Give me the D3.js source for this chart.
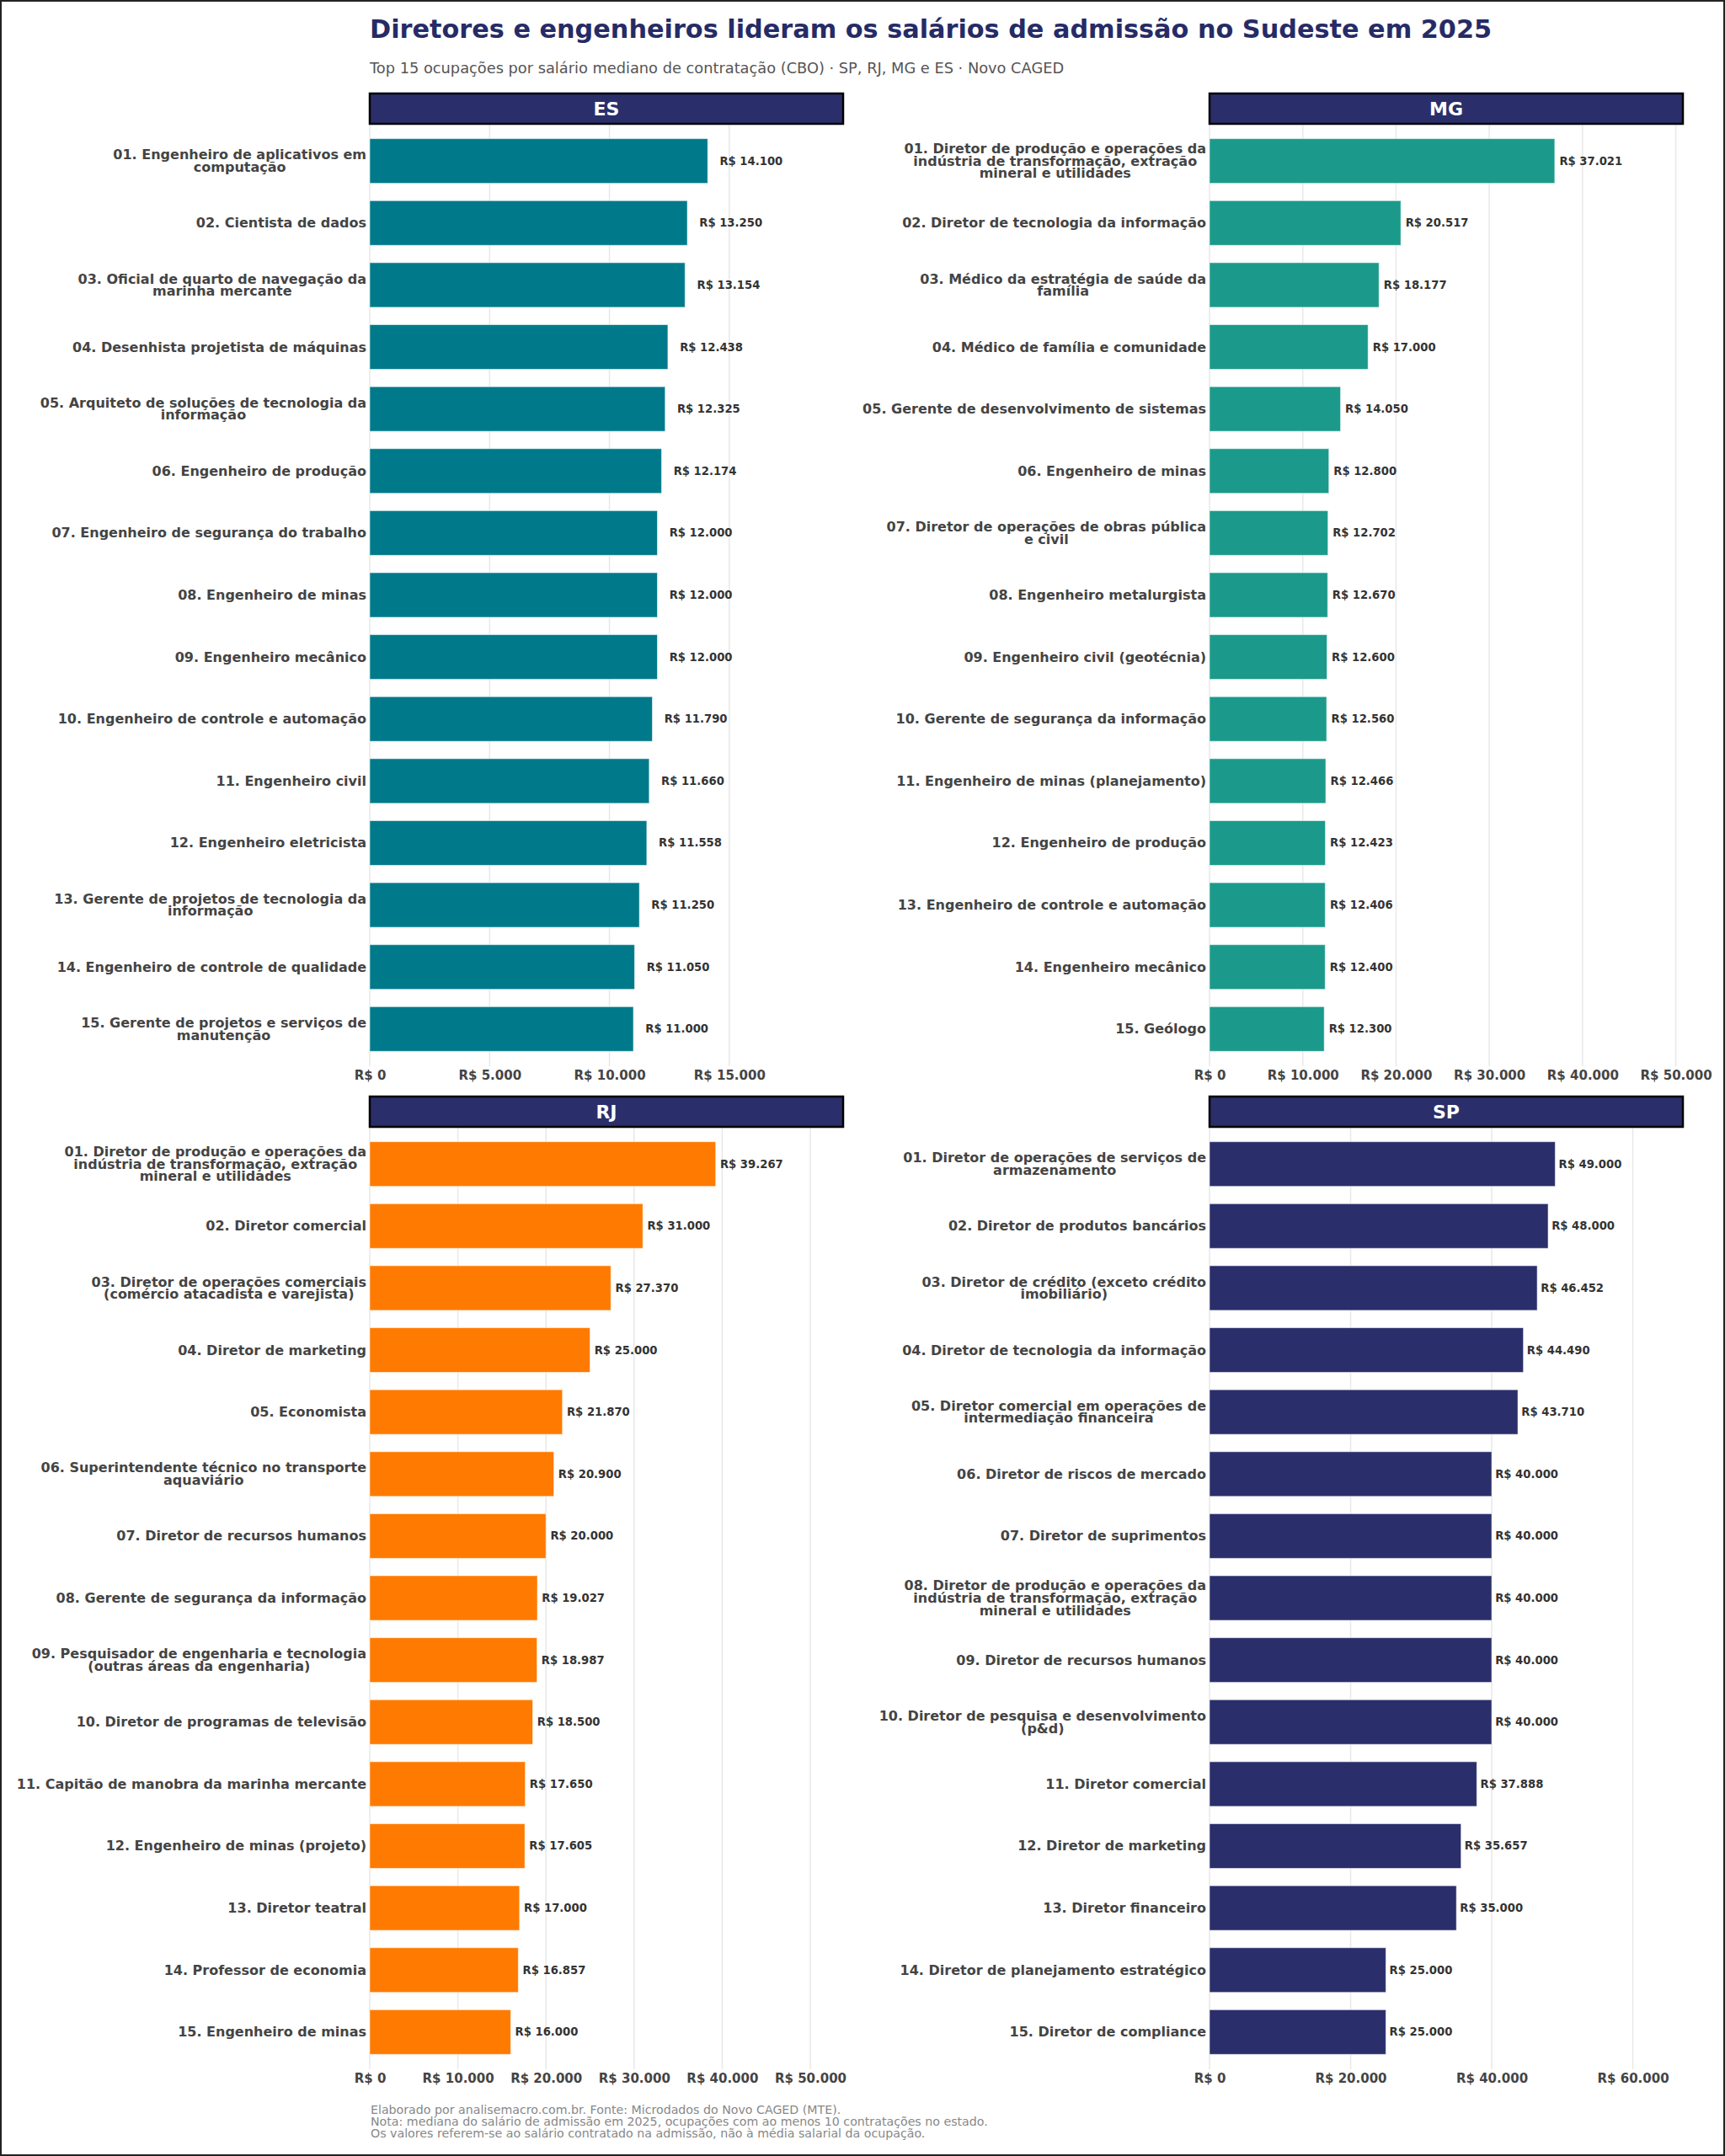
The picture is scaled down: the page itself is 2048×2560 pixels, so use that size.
<!DOCTYPE html>
<html><head><meta charset="utf-8">
<script src="https://cdn.jsdelivr.net/npm/d3@7/dist/d3.min.js"></script>
<style>body{margin:0;background:#fff} svg{display:block}</style>
</head><body>
<svg id="c" width="2048" height="2560"></svg>
<script>
// ---------------- DATA ----------------
const states = ["ES", "MG", "RJ", "SP"];

const esLabels = [
  "01. Engenheiro de aplicativos em computação",
  "02. Cientista de dados",
  "03. Oficial de quarto de navegação da marinha mercante",
  "04. Desenhista projetista de máquinas",
  "05. Arquiteto de soluções de tecnologia da informação",
  "06. Engenheiro de produção",
  "07. Engenheiro de segurança do trabalho",
  "08. Engenheiro de minas",
  "09. Engenheiro mecânico",
  "10. Engenheiro de controle e automação",
  "11. Engenheiro civil",
  "12. Engenheiro eletricista",
  "13. Gerente de projetos de tecnologia da informação",
  "14. Engenheiro de controle de qualidade",
  "15. Gerente de projetos e serviços de manutenção"
];
const esValues = [14100, 13250, 13154, 12438, 12325, 12174, 12000, 12000, 12000, 11790, 11660, 11558, 11250, 11050, 11000];

const mgLabels = [
  "01. Diretor de produção e operações da indústria de transformação, extração mineral e utilidades",
  "02. Diretor de tecnologia da informação",
  "03. Médico da estratégia de saúde da família",
  "04. Médico de família e comunidade",
  "05. Gerente de desenvolvimento de sistemas",
  "06. Engenheiro de minas",
  "07. Diretor de operações de obras pública e civil",
  "08. Engenheiro metalurgista",
  "09. Engenheiro civil (geotécnia)",
  "10. Gerente de segurança da informação",
  "11. Engenheiro de minas (planejamento)",
  "12. Engenheiro de produção",
  "13. Engenheiro de controle e automação",
  "14. Engenheiro mecânico",
  "15. Geólogo"
];
const mgValues = [37021, 20517, 18177, 17000, 14050, 12800, 12702, 12670, 12600, 12560, 12466, 12423, 12406, 12400, 12300];

const rjLabels = [
  "01. Diretor de produção e operações da indústria de transformação, extração mineral e utilidades",
  "02. Diretor comercial",
  "03. Diretor de operações comerciais (comércio atacadista e varejista)",
  "04. Diretor de marketing",
  "05. Economista",
  "06. Superintendente técnico no transporte aquaviário",
  "07. Diretor de recursos humanos",
  "08. Gerente de segurança da informação",
  "09. Pesquisador de engenharia e tecnologia (outras áreas da engenharia)",
  "10. Diretor de programas de televisão",
  "11. Capitão de manobra da marinha mercante",
  "12. Engenheiro de minas (projeto)",
  "13. Diretor teatral",
  "14. Professor de economia",
  "15. Engenheiro de minas"
];
const rjValues = [39267, 31000, 27370, 25000, 21870, 20900, 20000, 19027, 18987, 18500, 17650, 17605, 17000, 16857, 16000];

const spLabels = [
  "01. Diretor de operações de serviços de armazenamento",
  "02. Diretor de produtos bancários",
  "03. Diretor de crédito (exceto crédito imobiliário)",
  "04. Diretor de tecnologia da informação",
  "05. Diretor comercial em operações de intermediação financeira",
  "06. Diretor de riscos de mercado",
  "07. Diretor de suprimentos",
  "08. Diretor de produção e operações da indústria de transformação, extração mineral e utilidades",
  "09. Diretor de recursos humanos",
  "10. Diretor de pesquisa e desenvolvimento (p&d)",
  "11. Diretor comercial",
  "12. Diretor de marketing",
  "13. Diretor financeiro",
  "14. Diretor de planejamento estratégico",
  "15. Diretor de compliance"
];
const spValues = [49000, 48000, 46452, 44490, 43710, 40000, 40000, 40000, 40000, 40000, 37888, 35657, 35000, 25000, 25000];

const esTicks = [0, 5000, 10000, 15000];
const mgTicks = [0, 10000, 20000, 30000, 40000, 50000];
const rjTicks = [0, 10000, 20000, 30000, 40000, 50000];
const spTicks = [0, 20000, 40000, 60000];

const titleText = "Diretores e engenheiros lideram os salários de admissão no Sudeste em 2025";
const subtitleText = "Top 15 ocupações por salário mediano de contratação (CBO) · SP, RJ, MG e ES · Novo CAGED";
const footerLines = [
  "Elaborado por analisemacro.com.br. Fonte: Microdados do Novo CAGED (MTE).",
  "Nota: mediana do salário de admissão em 2025, ocupações com ao menos 10 contratações no estado.",
  "Os valores referem-se ao salário contratado na admissão, não à média salarial da ocupação."
];

// ---------------- LAYOUT / STYLE ----------------
const panels = [
  {state: states[0], labels: esLabels, values: esValues, ticks: esTicks, xmax: 19750, color: "#007A8A", x: 439, hy: 111},
  {state: states[1], labels: mgLabels, values: mgValues, ticks: mgTicks, xmax: 50760, color: "#1B9A8B", x: 1436, hy: 111},
  {state: states[2], labels: rjLabels, values: rjValues, ticks: rjTicks, xmax: 53730, color: "#FF7A00", x: 439, hy: 1302},
  {state: states[3], labels: spLabels, values: spValues, ticks: spTicks, xmax: 67100, color: "#2A2F6B", x: 1436, hy: 1302}
];
const W = 562, HEADER_H = 36, PLOT_H = 1119;
const FONT = "'DejaVu Sans', 'Liberation Sans', sans-serif";

const fmt = v => "R$ " + d3.format(",")(v).replace(/,/g, ".");

function wrap(text, width) {
  const words = text.split(" ");
  const lines = [];
  let cur = "";
  words.forEach(w => {
    if (!cur) cur = w;
    else if ((cur + " " + w).length <= width) cur += " " + w;
    else { lines.push(cur); cur = w; }
  });
  if (cur) lines.push(cur);
  return lines;
}

const svg = d3.select("#c");
svg.append("rect").attr("width", 2048).attr("height", 2560).attr("fill", "#fff");

svg.append("text")
  .attr("x", 439).attr("y", 45)
  .attr("font-family", FONT).attr("font-weight", "bold").attr("font-size", 30.3)
  .attr("fill", "#262B66").text(titleText);

svg.append("text")
  .attr("x", 439).attr("y", 87)
  .attr("font-family", FONT).attr("font-size", 17.8)
  .attr("fill", "#555").text(subtitleText);

panels.forEach(p => {
  const g = svg.append("g");
  const top = p.hy + HEADER_H;
  const bottom = top + PLOT_H;
  const x = d3.scaleLinear().domain([0, p.xmax]).range([p.x, p.x + W]);
  const y = d3.scaleBand().domain(d3.range(p.labels.length))
    .range([top, bottom]).paddingInner(0.28).paddingOuter(0.24);

  // grid
  g.selectAll("line.grid").data(p.ticks).join("line")
    .attr("x1", d => x(d)).attr("x2", d => x(d))
    .attr("y1", top).attr("y2", bottom)
    .attr("stroke", "#e8e8e8").attr("stroke-width", 1.5);
  g.append("line").attr("x1", p.x).attr("x2", p.x + W)
    .attr("y1", top + 0.5).attr("y2", top + 0.5)
    .attr("stroke", "#dcdcdc").attr("stroke-width", 1.5);

  // bars
  g.selectAll("rect.bar").data(p.values).join("rect")
    .attr("x", x(0)).attr("y", (d, i) => y(i))
    .attr("width", d => x(d) - x(0)).attr("height", y.bandwidth())
    .attr("fill", p.color).attr("stroke", "rgba(255,255,255,0.55)").attr("stroke-width", 1);

  // value labels
  g.selectAll("text.val").data(p.values).join("text")
    .attr("x", d => x(d + 500)).attr("y", (d, i) => y(i) + y.bandwidth() / 2)
    .attr("dominant-baseline", "central")
    .attr("font-family", FONT).attr("font-weight", "bold").attr("font-size", 13.2)
    .attr("fill", "#333").text(d => fmt(d));

  // category labels
  const LH = 14.6;
  p.labels.forEach((lab, i) => {
    const lines = wrap(lab, 42);
    const cy = y(i) + y.bandwidth() / 2;
    const t = g.append("text")
      .attr("font-family", FONT).attr("font-weight", "bold").attr("font-size", 16)
      .attr("fill", "#444");
    const n = lines.length;
    lines.forEach((ln, k) => {
      t.append("tspan")
        .attr("x", p.x - 4)
        .attr("y", cy + (k - (n - 1) / 2) * LH)
        .attr("dominant-baseline", "central")
        .attr("text-anchor", "end")
        .text(ln);
    });
    if (n > 1) {
      const spans = t.selectAll("tspan").nodes();
      const widths = spans.map(s => s.getComputedTextLength());
      const wmax = d3.max(widths);
      spans.forEach((s, k) => {
        d3.select(s).attr("x", p.x - 4 - (wmax - widths[k]) / 2);
      });
    }
  });

  // x axis
  const ax = g.append("g").attr("transform", `translate(0,${bottom})`)
    .call(d3.axisBottom(x).tickValues(p.ticks).tickSize(0).tickPadding(5).tickFormat(fmt));
  ax.select(".domain").remove();
  ax.selectAll("text").attr("font-family", FONT).attr("font-weight", "bold")
    .attr("font-size", 15).attr("fill", "#444");

  // header
  g.append("rect").attr("x", p.x).attr("y", p.hy).attr("width", W).attr("height", HEADER_H)
    .attr("fill", "#2A2F6B").attr("stroke", "#000").attr("stroke-width", 2.5);
  g.append("text").attr("x", p.x + W / 2).attr("y", p.hy + HEADER_H / 2)
    .attr("text-anchor", "middle").attr("dominant-baseline", "central")
    .attr("font-family", FONT).attr("font-weight", "bold").attr("font-size", 22)
    .attr("fill", "#fff").text(p.state);
});

// footer
const ft = svg.append("text").attr("font-family", FONT).attr("font-size", 14.2).attr("fill", "#888");
footerLines.forEach((ln, k) => {
  ft.append("tspan").attr("x", 440).attr("y", 2510 + k * 13.8).text(ln);
});

// figure border
svg.append("rect").attr("x", 1).attr("y", 1).attr("width", 2046).attr("height", 2558)
  .attr("fill", "none").attr("stroke", "#222").attr("stroke-width", 2);
</script>
</body></html>
